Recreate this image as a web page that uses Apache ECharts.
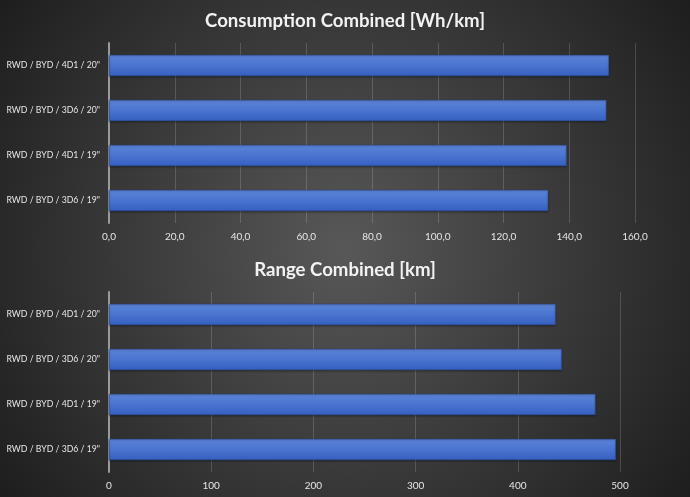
<!DOCTYPE html>
<html>
<head>
<meta charset="utf-8">
<script src="https://cdn.jsdelivr.net/npm/echarts@6/dist/echarts.min.js"></script>
<style>
  html, body { margin: 0; padding: 0; }
  #chart { width: 690px; height: 497px; }
</style>
</head>
<body>
<div id="chart"></div>
<script>
// bottom-to-top, ECharts puts the first category at the bottom
const categories = ['RWD / BYD / 3D6 / 19"', 'RWD / BYD / 4D1 / 19"', 'RWD / BYD / 3D6 / 20"', 'RWD / BYD / 4D1 / 20"'];
const consumption = [133.6, 139.2, 151.3, 152.1];
const range = [496, 476, 443, 437];
const consumptionTicks = { min: 0, max: 160, interval: 20 };
const rangeTicks = { min: 0, max: 500, interval: 100 };

const labelFont = 'Lato, "Open Sans", sans-serif';

function barColor() {
  return new echarts.graphic.LinearGradient(0, 0, 0, 1, [
    { offset: 0, color: '#5c84d8' },
    { offset: 0.5, color: '#4a74cf' },
    { offset: 1, color: '#3560c0' }
  ]);
}

function xAxis(gridIndex, ticks, fmt) {
  return {
    type: 'value',
    gridIndex: gridIndex,
    min: ticks.min,
    max: ticks.max,
    interval: ticks.interval,
    axisLine: { show: false },
    axisTick: { show: false },
    splitLine: { lineStyle: { color: 'rgba(255,255,255,0.16)', width: 1 } },
    axisLabel: { color: '#e6e6e6', fontSize: 10, fontFamily: labelFont, margin: 9, formatter: fmt }
  };
}

function yAxis(gridIndex) {
  return {
    type: 'category',
    gridIndex: gridIndex,
    data: categories,
    axisLine: { lineStyle: { color: '#9a9a9a', width: 2 } },
    axisTick: { show: false },
    axisLabel: { color: '#e6e6e6', fontSize: 8.7, fontFamily: labelFont, margin: 9 }
  };
}

function barSeries(idx, data) {
  return {
    type: 'bar',
    xAxisIndex: idx,
    yAxisIndex: idx,
    data: data,
    barWidth: 21,
    itemStyle: {
      color: barColor(),
      borderColor: '#2c4f9e',
      borderWidth: 0.5,
      shadowColor: 'rgba(0,0,0,0.35)',
      shadowBlur: 2,
      shadowOffsetY: 1
    }
  };
}

const chart = echarts.init(document.getElementById('chart'));
chart.setOption({
  animation: false,
  backgroundColor: {
    type: 'radial', x: 0.5, y: 0.5, r: 0.85,
    colorStops: [
      { offset: 0, color: '#585858' },
      { offset: 1, color: '#1e1e1e' }
    ]
  },
  title: [
    { text: 'Consumption Combined [Wh/km]', left: 'center', top: 6,
      textStyle: { color: '#f2f2f2', fontSize: 18.6, fontWeight: 'bold', fontFamily: labelFont } },
    { text: 'Range Combined [km]', left: 'center', top: 255,
      textStyle: { color: '#f2f2f2', fontSize: 18.6, fontWeight: 'bold', fontFamily: labelFont } }
  ],
  grid: [
    { left: 109, right: 55, top: 43, height: 180, containLabel: false, outerBoundsMode: 'none' },
    { left: 109, right: 70, top: 292, height: 180, containLabel: false, outerBoundsMode: 'none' }
  ],
  xAxis: [
    xAxis(0, consumptionTicks, v => v.toFixed(1).replace('.', ',')),
    xAxis(1, rangeTicks, v => String(v))
  ],
  yAxis: [yAxis(0), yAxis(1)],
  series: [barSeries(0, consumption), barSeries(1, range)]
});
</script>
</body>
</html>
